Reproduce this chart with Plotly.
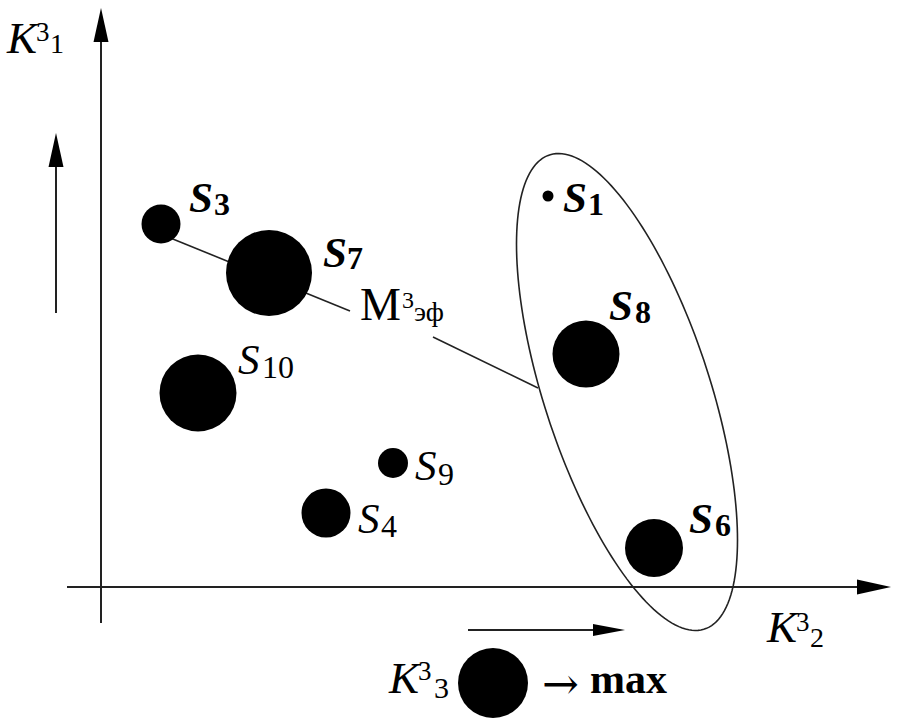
import numpy as np
import plotly.graph_objects as go

# ---- data (K3_2 horizontal, K3_1 vertical, K3_3 bubble size) ----
names = ["S1", "S3", "S4", "S6", "S7", "S8", "S9", "S10"]
k2 = [4.47, 0.60, 2.25, 5.53, 1.68, 4.85, 2.92, 0.97]
k1 = [3.91, 3.63, 0.74, 0.39, 3.14, 2.33, 1.24, 1.94]
k3 = [1.1, 3.9, 4.9, 5.8, 8.6, 6.7, 3.0, 7.7]
effective = ["S1", "S3", "S6", "S7", "S8"]   # bold labels (effective set M3эф)
legend_k3 = [7.0]

FONT = "Liberation Serif"
SIZEREF = 0.1


def X(px):
    return (px - 101) / 100.0


def Y(py):
    return (587 - py) / 100.0


fig = go.Figure()
fig.add_trace(go.Scatter(
    x=k2, y=k1, mode="markers",
    marker=dict(size=k3, sizemode="diameter", sizeref=SIZEREF, color="black",
                opacity=1, line=dict(width=0)),
    hoverinfo="text", text=names, showlegend=False))

# legend bubble
fig.add_trace(go.Scatter(
    x=[X(493)], y=[Y(683)], mode="markers",
    marker=dict(size=legend_k3, sizemode="diameter", sizeref=SIZEREF, color="black",
                opacity=1, line=dict(width=0)),
    hoverinfo="skip", showlegend=False))

annotations = []


def txt(left, baseline, text, size, bold=False, italic=False, family=FONT, centre=None):
    t = text
    if italic:
        t = "<i>%s</i>" % t
    if bold:
        t = "<b>%s</b>" % t
    if centre is None:
        centre = baseline - 0.3375 * size
    annotations.append(dict(x=X(left), y=Y(centre), text=t, showarrow=False,
                            xanchor="left", yanchor="middle", borderpad=0,
                            font=dict(family=family, size=size, color="black")))


MAIN = 43
SUB = 32
# label placement: (S left, S baseline, digit left, digit baseline)
label_pos = {
    "S1": (562, 212, 587, 215),
    "S3": (188, 212, 213, 215),
    "S7": (322, 267, 346, 269),
    "S8": (608, 320, 634, 323),
    "S6": (688, 533, 714, 536),
    "S9": (414, 480, 437, 485),
    "S4": (357, 533, 380, 537),
    "S10": (237, 374, 261, 378),
}
for n in names:
    sl, sb, dl, db = label_pos[n]
    bold = n in effective
    txt(sl, sb, "S", MAIN, bold=bold, italic=True)
    txt(dl, db, n[1:], SUB, bold=bold)

# axis labels
txt(5, 53, "K", 45, italic=True)
txt(35, 41, "3", 27)
txt(49, 53, "1", 28)

txt(765, 642, "K", 45, italic=True)
txt(795, 631, "3", 27)
txt(809, 647, "2", 28)

txt(387, 693, "K", 45, italic=True)
txt(417, 680, "3", 27)
txt(433, 698, "3", 30)
txt(541, 0, "→", 44, family="DejaVu Serif", centre=683)
txt(589, 693, "max", 42, bold=True)

# M3эф
txt(359, 320, "M", 46)
txt(401, 308, "3", 24)
txt(413, 321, "эф", 28)

shapes = []
LINE = dict(color="#222", width=2)
# axes
shapes.append(dict(type="line", x0=X(67), y0=0, x1=X(862), y1=0, line=LINE, layer="below"))
shapes.append(dict(type="line", x0=0, y0=Y(623), x1=0, y1=Y(36), line=LINE, layer="below"))


def arrowhead(tx, ty, dx, dy, length, half):
    bx, by = tx - dx * length, ty - dy * length
    px, py = -dy * half, dx * half
    return "M %f,%f L %f,%f L %f,%f Z" % (tx, ty, bx + px, by + py, bx - px, by - py)


shapes.append(dict(type="path", path=arrowhead(0, Y(8), 0, 1, 0.34, 0.075),
                   fillcolor="black", line=dict(width=0)))
shapes.append(dict(type="path", path=arrowhead(X(891), 0, 1, 0, 0.34, 0.075),
                   fillcolor="black", line=dict(width=0)))
# side arrow (K1 up)
shapes.append(dict(type="line", x0=X(56), y0=Y(313), x1=X(56), y1=Y(160), line=LINE))
shapes.append(dict(type="path", path=arrowhead(X(56), Y(133), 0, 1, 0.34, 0.075),
                   fillcolor="black", line=dict(width=0)))
# bottom arrow (K2 right)
shapes.append(dict(type="line", x0=X(468), y0=Y(630), x1=X(600), y1=Y(630), line=LINE))
shapes.append(dict(type="path", path=arrowhead(X(625), Y(630), 1, 0, 0.32, 0.06),
                   fillcolor="black", line=dict(width=0)))

# M_eff leader lines
THIN = dict(color="#222", width=1.6)
shapes.append(dict(type="line", x0=X(163), y0=Y(235), x1=X(350), y1=Y(311), line=THIN, layer="below"))
shapes.append(dict(type="line", x0=X(433), y0=Y(337), x1=X(538), y1=Y(388), line=THIN, layer="below"))

# ellipse around the effective set
cx, cy = X(627), Y(392)
sxx, syy, sxy = 1.221, 5.688, -1.634
l11 = np.sqrt(sxx)
l21 = sxy / l11
l22 = np.sqrt(syy - l21 ** 2)
t = np.linspace(0, 2 * np.pi, 181)
ex = cx + l11 * np.cos(t)
ey = cy + l21 * np.cos(t) + l22 * np.sin(t)
path = "M " + " L ".join("%f,%f" % (a, b) for a, b in zip(ex, ey)) + " Z"
shapes.append(dict(type="path", path=path, line=dict(color="#222", width=1.6),
                   fillcolor="rgba(0,0,0,0)"))

fig.update_layout(
    width=906, height=724, margin=dict(l=0, r=0, t=0, b=0),
    paper_bgcolor="white", plot_bgcolor="white",
    xaxis=dict(range=[-1.01, 8.05], visible=False, fixedrange=True),
    yaxis=dict(range=[-1.37, 5.87], visible=False, fixedrange=True),
    shapes=shapes, annotations=annotations, showlegend=False,
)

fig.write_html("out.html", config={"displayModeBar": False},
               post_script="document.body.style.margin='0';")
